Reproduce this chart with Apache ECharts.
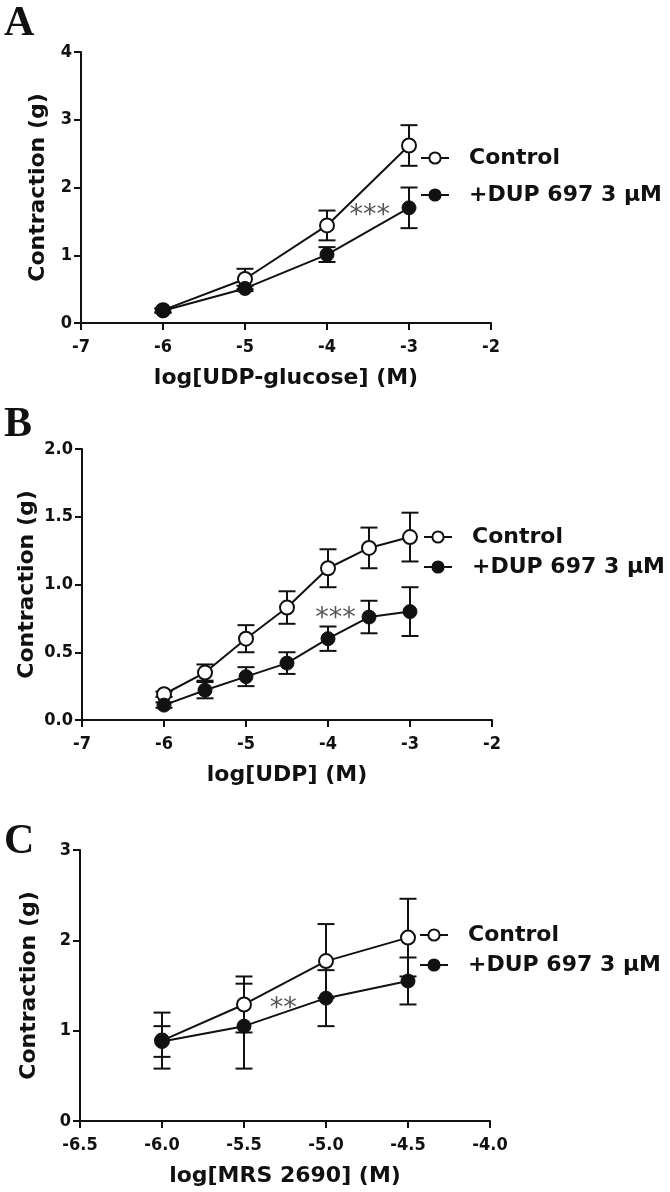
<!DOCTYPE html>
<html>
<head>
<meta charset="utf-8">
<script src="https://cdn.jsdelivr.net/npm/echarts@6/dist/echarts.min.js"></script>
<style>
  html, body { margin: 0; padding: 0; background: #fff; }
  #chart { width: 670px; height: 1192px; }
</style>
</head>
<body>
<div id="chart"></div>
<script>
// panel A: UDP-glucose
const xA = [-6, -5, -4, -3]
const ctrlA = [0.19, 0.65, 1.44, 2.62]
const ctrlErrA = [0.03, 0.15, 0.22, 0.30]
const dupA = [0.18, 0.51, 1.01, 1.70]
const dupErrA = [0.03, 0.04, 0.11, 0.30]

// panel B: UDP
const xB = [-6, -5.5, -5, -4.5, -4, -3.5, -3]
const ctrlB = [0.19, 0.35, 0.60, 0.83, 1.12, 1.27, 1.35]
const ctrlErrB = [0.02, 0.06, 0.10, 0.12, 0.14, 0.15, 0.18]
const dupB = [0.11, 0.22, 0.32, 0.42, 0.60, 0.76, 0.80]
const dupErrB = [0.02, 0.06, 0.07, 0.08, 0.09, 0.12, 0.18]

// panel C: MRS 2690
const xC = [-6.0, -5.5, -5.0, -4.5]
const ctrlC = [0.89, 1.29, 1.77, 2.03]
const ctrlErrC = [0.31, 0.31, 0.41, 0.43]
const dupC = [0.88, 1.05, 1.36, 1.55]
const dupErrC = [0.17, 0.47, 0.31, 0.26]

// significance marks [x, y, text]
const starsA = [[-3.48, 1.69, '***']]
const starsB = [[-3.91, 0.80, '***']]
const starsC = [[-5.26, 1.32, '**']]

const panelLetters = ['A', 'B', 'C']
const xTitles = ['log[UDP-glucose] (M)', 'log[UDP] (M)', 'log[MRS 2690] (M)']
const seriesNames = ['Control', '+DUP 697 3 μM']

const INK = '#111'
const tickFont = "'Liberation Sans Narrow', 'DejaVu Sans Condensed', sans-serif"
const titleFont = "'DejaVu Sans', Verdana, sans-serif"

const grids = [
  { left: 81, top: 52, width: 410, height: 271 },
  { left: 82, top: 449, width: 410, height: 271 },
  { left: 80, top: 850, width: 410, height: 271 }
]

const xRanges = [
  { min: -7, max: -2, interval: 1, digits: 0 },
  { min: -7, max: -2, interval: 1, digits: 0 },
  { min: -6.5, max: -4, interval: 0.5, digits: 1 }
]
const yRanges = [
  { min: 0, max: 4, interval: 1, digits: 0 },
  { min: 0, max: 2, interval: 0.5, digits: 1 },
  { min: 0, max: 3, interval: 1, digits: 0 }
]

const yNameGaps = [32, 44, 40]
const legendTops = [147, 526, 924]
const legendGaps = [15, 8, 8]
const legendLefts = [420, 423, 419]
const letterTops = [3, 404, 821]

const axisCommon = {
  axisLine: { show: true, onZero: false, lineStyle: { color: INK, width: 2 } },
  axisTick: { show: true, length: 7, lineStyle: { color: INK, width: 2 } },
  splitLine: { show: false }
}

const xAxes = xRanges.map((r, i) => ({
  type: 'value',
  gridIndex: i,
  min: r.min,
  max: r.max,
  interval: r.interval,
  ...axisCommon,
  axisLabel: {
    color: INK, fontFamily: tickFont, fontWeight: 'bold', fontSize: 18, margin: 15,
    formatter: v => v.toFixed(r.digits)
  },
  name: xTitles[i],
  nameLocation: 'middle',
  nameGap: 44,
  nameMoveOverlap: false,
  nameTextStyle: { color: INK, fontFamily: titleFont, fontWeight: 'bold', fontSize: 22 }
}))

const yAxes = yRanges.map((r, i) => ({
  type: 'value',
  gridIndex: i,
  min: r.min,
  max: r.max,
  interval: r.interval,
  ...axisCommon,
  axisLabel: {
    color: INK, fontFamily: tickFont, fontWeight: 'bold', fontSize: 18, margin: 9,
    formatter: v => v.toFixed(r.digits)
  },
  name: 'Contraction (g)',
  nameLocation: 'middle',
  nameGap: yNameGaps[i],
  nameMoveOverlap: false,
  nameTextStyle: { color: INK, fontFamily: titleFont, fontWeight: 'bold', fontSize: 22 }
}))

// error bars with caps
const errorBarItem = (params, api) => {
  const x = api.value(0)
  const y = api.value(1)
  const e = api.value(2)
  const top = api.coord([x, y + e])
  const bot = api.coord([x, y - e])
  const w = 8.5
  const style = { stroke: INK, lineWidth: 2 }
  return {
    type: 'group',
    children: [
      { type: 'line', shape: { x1: top[0], y1: top[1], x2: bot[0], y2: bot[1] }, style },
      { type: 'line', shape: { x1: top[0] - w, y1: top[1], x2: top[0] + w, y2: top[1] }, style },
      { type: 'line', shape: { x1: bot[0] - w, y1: bot[1], x2: bot[0] + w, y2: bot[1] }, style }
    ]
  }
}

const makePanel = (i, xs, ctrl, ctrlErr, dup, dupErr, stars) => {
  const pts = (ys) => xs.map((x, k) => [x, ys[k]])
  const errs = (ys, es) => xs.map((x, k) => [x, ys[k], es[k]])
  const lineBase = {
    type: 'line',
    xAxisIndex: i,
    yAxisIndex: i,
    symbol: 'circle',
    symbolSize: 14,
    lineStyle: { color: INK, width: 2 },
    z: 3
  }
  return [
    {
      name: 'Control err', type: 'custom', xAxisIndex: i, yAxisIndex: i,
      renderItem: errorBarItem, data: errs(ctrl, ctrlErr), z: 1
    },
    {
      name: 'DUP err', type: 'custom', xAxisIndex: i, yAxisIndex: i,
      renderItem: errorBarItem, data: errs(dup, dupErr), z: 1
    },
    {
      ...lineBase,
      name: seriesNames[0],
      itemStyle: { color: '#fff', borderColor: INK, borderWidth: 2 },
      data: pts(ctrl)
    },
    {
      ...lineBase,
      name: seriesNames[1],
      itemStyle: { color: INK, borderColor: INK, borderWidth: 1 },
      data: pts(dup)
    },
    {
      name: 'stars', type: 'scatter', xAxisIndex: i, yAxisIndex: i,
      symbolSize: 0,
      data: stars.map(s => ({ value: [s[0], s[1]], name: s[2] })),
      label: {
        show: true, position: 'inside', formatter: '{b}', offset: [0, 7],
        color: '#2a2a2a', fontFamily: titleFont, fontSize: 27
      },
      z: 4
    }
  ]
}

const series = [
  ...makePanel(0, xA, ctrlA, ctrlErrA, dupA, dupErrA, starsA),
  ...makePanel(1, xB, ctrlB, ctrlErrB, dupB, dupErrB, starsB),
  ...makePanel(2, xC, ctrlC, ctrlErrC, dupC, dupErrC, starsC)
]

const legends = grids.map((g, i) => ({
  data: seriesNames,
  orient: 'vertical',
  left: legendLefts[i],
  top: legendTops[i],
  padding: 0,
  itemWidth: 28,
  itemHeight: 14,
  itemGap: legendGaps[i],
  selectedMode: false,
  textStyle: {
    color: INK, fontFamily: titleFont, fontWeight: 'bold', fontSize: 22,
    lineHeight: 22, padding: [0, 0, 0, 15]
  }
}))

const letters = panelLetters.map((t, i) => ({
  type: 'text',
  left: 4,
  top: letterTops[i],
  style: {
    text: t,
    fill: INK,
    font: "bold 42px 'Liberation Serif', 'DejaVu Serif', serif"
  }
}))

const chart = echarts.init(document.getElementById('chart'), null, { renderer: 'canvas' })
chart.setOption({
  animation: false,
  backgroundColor: '#fff',
  grid: grids,
  xAxis: xAxes,
  yAxis: yAxes,
  legend: legends,
  graphic: letters,
  series
})
</script>
</body>
</html>
